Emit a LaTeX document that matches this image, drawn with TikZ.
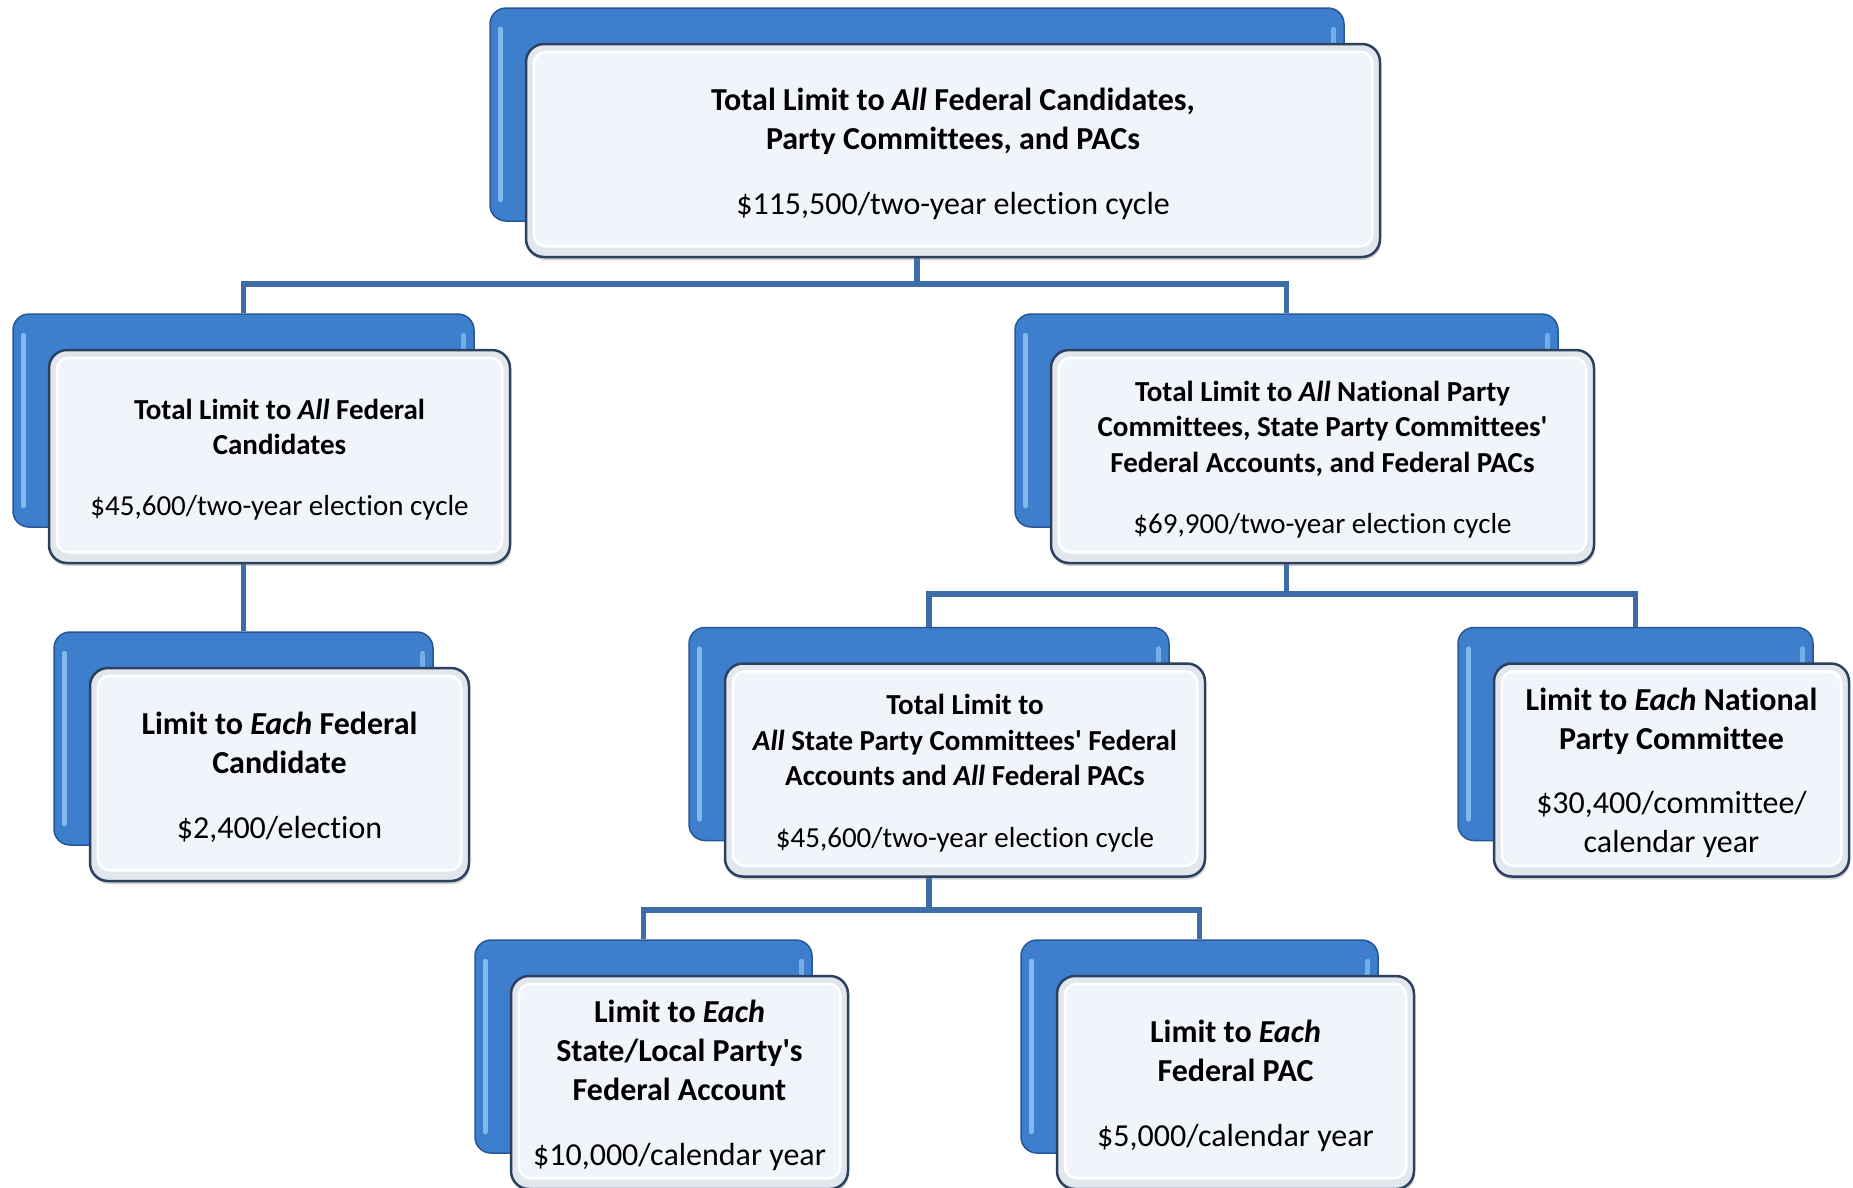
\documentclass[tikz,border=0pt]{standalone}
\usepackage{fontspec}
\setmainfont{Carlito}[Ligatures={TeXOff,NoCommon}]
\usetikzlibrary{shadows}
\definecolor{backblue}{RGB}{61,126,205}
\definecolor{backedge}{RGB}{38,88,150}
\definecolor{backhl}{RGB}{146,200,246}
\definecolor{frontfill}{RGB}{241,244,250}
\definecolor{frontedge}{RGB}{44,64,96}
\definecolor{bevelgray}{RGB}{226,230,237}
\definecolor{connblue}{RGB}{62,108,168}
\pgfdeclarelayer{bg}
\pgfsetlayers{bg,main}
\tikzset{
  backbox/.style={draw=backedge, line width=1.5pt, fill=backblue, rounded corners=16pt,
    minimum height=213pt, inner sep=0pt},
  frontbox/.style={draw=frontedge, line width=2.5pt, fill=bevelgray, rounded corners=18pt,
    minimum height=213pt, inner sep=0pt,
    drop shadow={opacity=0.35, shadow xshift=1pt, shadow yshift=-3pt}},
  highlight/.style={draw=backhl, line width=5pt, line cap=round, opacity=0.8},
  innerface/.style={fill=frontfill, draw=white, line width=2.5pt, rounded corners=12pt},
  boxtext/.style={align=center, inner sep=0pt, text=black},
  big/.style={font=\fontsize{32}{39}\selectfont},
  small/.style={font=\fontsize{29}{35.5}\selectfont},
  conn/.style={draw=connblue, line width=5.5pt},
}
\newcommand\hb{\bfseries}
% #1 name, #2 x, #3 y, #4 width, #5 text size style, #6 text
\newcommand\boxpair[6]{%
  \node[backbox, minimum width=#4pt] (#1b) at (#2,#3) {};
  \draw[highlight] ([xshift=11pt,yshift=-22pt]#1b.north west) -- ([xshift=11pt,yshift=22pt]#1b.south west);
  \draw[highlight, opacity=0.65] ([xshift=-11pt,yshift=-22pt]#1b.north east) -- ([xshift=-11pt,yshift=22pt]#1b.south east);
  \node[frontbox, minimum width=#4pt] (#1f) at ([xshift=36pt,yshift=-36pt]#1b.center) {};
  \path[innerface] ([xshift=9pt,yshift=-9pt]#1f.north west) rectangle ([xshift=-9pt,yshift=12pt]#1f.south east);
  \node[boxtext, #5] (#1t) at ([yshift=-3pt]#1f.center) {#6};
}
\begin{document}
\begin{tikzpicture}[x=1pt, y=-1pt]
\useasboundingbox (0,0) rectangle (1853,1187);
\clip (0,0) rectangle (1853,1187);

\boxpair{tb}{917}{114.5}{854}{big}{\hb Total Limit to \textit{All} Federal Candidates,\\ \hb Party Committees, and PACs\\[26pt] \$115,500/two-year election cycle}
\boxpair{la}{243.5}{420.5}{461}{small}{\hb Total Limit to \textit{All} Federal\\ \hb Candidates\\[25pt] \$45,600/two-year election cycle}
\boxpair{ra}{1286.5}{420.5}{543}{small}{\hb Total Limit to \textit{All} National Party\\ \hb Committees, State Party Committees'\\ \hb Federal Accounts, and Federal PACs\\[26pt] \$69,900/two-year election cycle}
\boxpair{lb}{243.5}{738.5}{379}{big}{\hb Limit to \textit{Each} Federal\\ \hb Candidate\\[26pt] \$2,400/election}
\boxpair{mb}{929}{734}{480}{small}{\hb Total Limit to\\ \hb \textit{All} State Party Committees' Federal\\ \hb Accounts and \textit{All} Federal PACs\\[26pt] \$45,600/two-year election cycle}
\boxpair{rb}{1635.5}{734}{355}{big}{\hb Limit to \textit{Each} National\\ \hb Party Committee\\[25pt] \$30,400/committee/\\ calendar year}
\boxpair{ba}{643.5}{1046.5}{337}{big}{\hb Limit to \textit{Each}\\ \hb State/Local Party's\\ \hb Federal Account\\[26pt] \$10,000/calendar year}
\boxpair{bb}{1199.5}{1046.5}{357}{big}{\hb Limit to \textit{Each}\\ \hb Federal PAC\\[26pt] \$5,000/calendar year}

\coordinate (j1) at (917,284);
\coordinate (j2) at (1286.5,594);
\coordinate (j3) at (929,910);

\begin{pgfonlayer}{bg}
  \draw[conn] (tbb.south) -- (j1) -| (lab.north);
  \draw[conn] (j1) -| (rab.north);
  \draw[conn] (lab.south) -- (lbb.north);
  \draw[conn] (rab.south) -- (j2) -| (mbb.north);
  \draw[conn] (j2) -| (rbb.north);
  \draw[conn] (mbb.south) -- (j3) -| (bab.north);
  \draw[conn] (j3) -| (bbb.north);
\end{pgfonlayer}
\end{tikzpicture}
\end{document}
